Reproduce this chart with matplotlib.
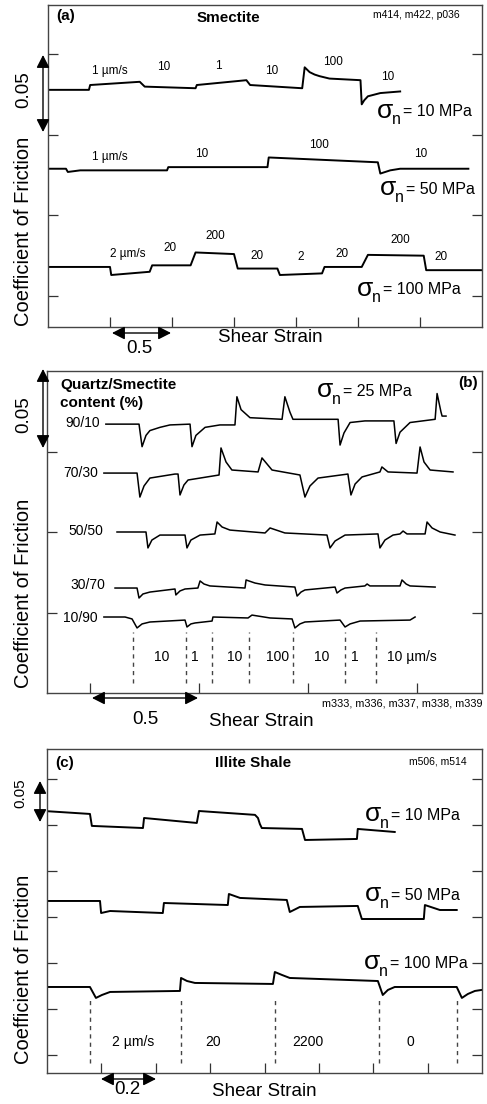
import matplotlib
matplotlib.use('Agg')
import matplotlib.pyplot as plt
from matplotlib.patches import FancyArrowPatch

plt.rcParams['font.family'] = ['Liberation Sans', 'DejaVu Sans']

W, H = 487, 1104

# ---------------- Panel (a): Smectite ----------------
a_sig10_x = [0, 0.33, 0.34, 0.74, 0.78, 1.19, 1.20, 1.60, 1.63, 2.05, 2.07, 2.09, 2.11, 2.15, 2.19, 2.27, 2.52, 2.53, 2.55, 2.58, 2.68, 2.84]
a_sig10_y = [0.228, 0.228, 0.231, 0.233, 0.230, 0.229, 0.231, 0.234, 0.231, 0.229, 0.242, 0.2405, 0.239, 0.2375, 0.2365, 0.235, 0.234, 0.219, 0.2215, 0.224, 0.226, 0.227]
a_sig50_x = [0, 0.145, 0.16, 0.26, 0.96, 0.97, 1.77, 1.78, 2.66, 2.68, 2.76, 2.84, 3.39]
a_sig50_y = [0.179, 0.179, 0.177, 0.178, 0.178, 0.180, 0.180, 0.186, 0.183, 0.176, 0.178, 0.179, 0.179]
a_sig100_x = [0, 0.50, 0.51, 0.82, 0.84, 1.15, 1.19, 1.50, 1.53, 1.85, 1.87, 2.21, 2.23, 2.53, 2.58, 3.03, 3.05, 3.5]
a_sig100_y = [0.118, 0.118, 0.113, 0.115, 0.119, 0.119, 0.127, 0.126, 0.117, 0.117, 0.113, 0.114, 0.118, 0.118, 0.1255, 0.125, 0.116, 0.116]

a_lab10_txt = ['1 µm/s', '10', '1', '10', '100', '10']
a_lab10_x = [0.50, 0.935, 1.371, 1.806, 2.298, 2.742]
a_lab10_y = [0.240, 0.242, 0.243, 0.240, 0.245, 0.236]
a_lab50_txt = ['1 µm/s', '10', '100', '10']
a_lab50_x = [0.50, 1.242, 2.185, 3.008]
a_lab50_y = [0.186, 0.188, 0.194, 0.188]
a_lab100_txt = ['2 µm/s', '20', '200', '20', '2', '20', '200', '20']
a_lab100_x = [0.645, 0.984, 1.347, 1.685, 2.040, 2.371, 2.839, 3.169]
a_lab100_y = [0.126, 0.130, 0.137, 0.125, 0.124, 0.126, 0.135, 0.124]

# ---------------- Panel (b): Quartz/Smectite mixtures ----------------
b_q90_x = [0.573, 0.725, 0.739, 0.757, 0.775, 0.821, 0.867, 0.959, 0.968, 0.986, 1.028, 1.096, 1.165, 1.174, 1.193, 1.234, 1.381, 1.394, 1.417, 1.431, 1.638, 1.647, 1.665, 1.693, 1.761, 1.894, 1.904, 1.922, 1.968, 2.083, 2.092, 2.110, 2.115, 2.133]
b_q90_y = [0.167, 0.167, 0.153, 0.160, 0.163, 0.165, 0.1665, 0.167, 0.153, 0.160, 0.165, 0.1665, 0.1665, 0.184, 0.176, 0.171, 0.170, 0.184, 0.1745, 0.170, 0.170, 0.154, 0.1615, 0.168, 0.169, 0.169, 0.155, 0.162, 0.168, 0.170, 0.186, 0.1745, 0.172, 0.172]
b_q70_x = [0.564, 0.716, 0.729, 0.748, 0.775, 0.890, 0.904, 0.913, 0.931, 0.950, 1.092, 1.101, 1.124, 1.151, 1.271, 1.289, 1.335, 1.463, 1.486, 1.509, 1.546, 1.683, 1.697, 1.716, 1.748, 1.830, 1.839, 1.867, 2.000, 2.014, 2.032, 2.060, 2.165]
b_q70_y = [0.1366, 0.1366, 0.1217, 0.1286, 0.1335, 0.1360, 0.1360, 0.1230, 0.1292, 0.1323, 0.1354, 0.1522, 0.1435, 0.1385, 0.1373, 0.1460, 0.1385, 0.1354, 0.1217, 0.1286, 0.1335, 0.1360, 0.1230, 0.1298, 0.1342, 0.1373, 0.1404, 0.1373, 0.1366, 0.1528, 0.1435, 0.1385, 0.1373]
b_q50_x = [0.624, 0.757, 0.766, 0.784, 0.821, 0.936, 0.945, 0.963, 1.005, 1.073, 1.083, 1.106, 1.142, 1.303, 1.326, 1.394, 1.587, 1.601, 1.624, 1.670, 1.821, 1.830, 1.853, 1.890, 1.922, 1.936, 1.954, 2.037, 2.046, 2.069, 2.106, 2.174]
b_q50_y = [0.1000, 0.1000, 0.0901, 0.0950, 0.0981, 0.0981, 0.0901, 0.0950, 0.0981, 0.0988, 0.1062, 0.1031, 0.1012, 0.0994, 0.1025, 0.0994, 0.0981, 0.0901, 0.0944, 0.0981, 0.0988, 0.0901, 0.0950, 0.0981, 0.0988, 0.1006, 0.0988, 0.0988, 0.1062, 0.1025, 0.1000, 0.0981]
b_q30_x = [0.615, 0.716, 0.725, 0.743, 0.775, 0.890, 0.894, 0.913, 0.936, 0.995, 1.005, 1.023, 1.050, 1.211, 1.216, 1.257, 1.303, 1.440, 1.450, 1.468, 1.486, 1.624, 1.633, 1.651, 1.670, 1.761, 1.771, 1.784, 1.922, 1.931, 1.950, 1.968, 2.083]
b_q30_y = [0.0652, 0.0652, 0.0590, 0.0615, 0.0627, 0.0646, 0.0609, 0.0634, 0.0646, 0.0652, 0.0696, 0.0677, 0.0665, 0.0652, 0.0702, 0.0683, 0.0671, 0.0658, 0.0602, 0.0627, 0.0640, 0.0658, 0.0621, 0.0640, 0.0652, 0.0665, 0.0677, 0.0665, 0.0665, 0.0702, 0.0677, 0.0665, 0.0658]
b_q10_x = [0.564, 0.661, 0.693, 0.716, 0.739, 0.775, 0.936, 0.945, 0.963, 0.982, 1.060, 1.064, 1.225, 1.243, 1.326, 1.427, 1.440, 1.463, 1.486, 1.647, 1.670, 1.693, 1.739, 1.968, 1.991]
b_q10_y = [0.0472, 0.0472, 0.0460, 0.0404, 0.0429, 0.0441, 0.0453, 0.0410, 0.0429, 0.0435, 0.0447, 0.0472, 0.0466, 0.0484, 0.0466, 0.0460, 0.0404, 0.0429, 0.0441, 0.0453, 0.0410, 0.0429, 0.0447, 0.0453, 0.0472]

b_mix_txt = ['90/10', '70/30', '50/50', '30/70', '10/90']
b_mix_x = [0.546, 0.537, 0.560, 0.569, 0.537]
b_mix_y = [0.1677, 0.1366, 0.1006, 0.0671, 0.0466]

b_step_x = [0.697, 0.940, 1.060, 1.229, 1.431, 1.670, 1.812]
b_vel_txt = ['10', '1', '10', '100', '10', '1', '10 µm/s']
b_vel_x = [0.830, 0.982, 1.165, 1.362, 1.564, 1.716, 1.977]

# ---------------- Panel (c): Illite Shale ----------------
c_sig10_x = [0, 0.158, 0.165, 0.353, 0.357, 0.551, 0.559, 0.765, 0.776, 0.783, 0.790, 0.938, 0.949, 1.140, 1.143, 1.279]
c_sig10_y = [0.315, 0.312, 0.299, 0.2967, 0.3076, 0.3022, 0.3152, 0.311, 0.3076, 0.301, 0.2967, 0.2957, 0.2837, 0.2848, 0.2957, 0.2924]
c_sig50_x = [0, 0.195, 0.199, 0.232, 0.426, 0.430, 0.665, 0.669, 0.710, 0.882, 0.893, 0.930, 1.143, 1.158, 1.386, 1.390, 1.445, 1.507]
c_sig50_y = [0.2174, 0.2174, 0.2043, 0.2065, 0.2043, 0.2152, 0.2130, 0.2250, 0.2207, 0.2185, 0.2054, 0.2109, 0.2120, 0.1978, 0.1978, 0.2130, 0.2076, 0.2076]
c_sig100_x = [0, 0.158, 0.180, 0.202, 0.232, 0.489, 0.493, 0.515, 0.544, 0.831, 0.838, 0.864, 0.893, 1.217, 1.235, 1.254, 1.279, 1.507, 1.526, 1.548, 1.574, 1.599]
c_sig100_y = [0.1239, 0.1239, 0.1120, 0.1152, 0.1185, 0.1196, 0.1337, 0.1304, 0.1283, 0.1272, 0.1402, 0.1370, 0.1337, 0.1304, 0.1152, 0.1207, 0.1239, 0.1239, 0.1120, 0.1163, 0.1196, 0.1207]

c_step_x = [0.158, 0.493, 0.838, 1.221, 1.507]
c_vel_txt = ['2 µm/s', '20', '2200', '0']
c_vel_x = [0.316, 0.610, 0.960, 1.335]

# ---------------- helpers ----------------
fig = plt.figure(figsize=(W / 100, H / 100), dpi=100)


def fxy(px, py):
    return (px / W, 1 - py / H)


def ftext(px, py, s, **kw):
    kw.setdefault('ha', 'center')
    kw.setdefault('va', 'center')
    fig.text(px / W, 1 - py / H, s, **kw)


def farrow(p1, p2):
    arr = FancyArrowPatch(fxy(*p1), fxy(*p2), transform=fig.transFigure,
                          arrowstyle='<|-|>,head_length=0.55,head_width=0.28',
                          mutation_scale=14, lw=1.0, color='black',
                          shrinkA=0, shrinkB=0)
    fig.add_artist(arr)


def sigma(px, py, val):
    ftext(px, py - 1, 'σ', fontsize=19, ha='left')
    ftext(px + 15, py + 8, 'n', fontsize=11.5, ha='left')
    ftext(px + 26, py, '= %s MPa' % val, fontsize=11.5, ha='left')


def new_axes(left, top, right, bottom):
    ax = fig.add_axes([left / W, 1 - bottom / H, (right - left) / W, (bottom - top) / H])
    ax.tick_params(direction='in', length=7, width=0.9, labelbottom=False,
                   labelleft=False, left=True, right=True, top=False, bottom=True,
                   color='#333333')
    for s in ax.spines.values():
        s.set_linewidth(1.0)
        s.set_color('#444444')
    return ax


# ---------------- Panel (a) ----------------
axa = new_axes(48, 5, 482, 327)
axa.set_xlim(0, 3.5)
axa.set_ylim(0.0807, 0.2807)
axa.set_xticks([0.5, 1.0, 1.5, 2.0, 2.5, 3.0])
axa.set_yticks([0.10, 0.15, 0.20, 0.25])
for xs, ys in [(a_sig10_x, a_sig10_y), (a_sig50_x, a_sig50_y), (a_sig100_x, a_sig100_y)]:
    axa.plot(xs, ys, color='black', lw=1.4)
for txt, xs, ys in [(a_lab10_txt, a_lab10_x, a_lab10_y), (a_lab50_txt, a_lab50_x, a_lab50_y),
                    (a_lab100_txt, a_lab100_x, a_lab100_y)]:
    for t, x, y in zip(txt, xs, ys):
        axa.text(x, y, t, fontsize=8.5, ha='center', va='center')

ftext(66, 16, '(a)', fontsize=11, fontweight='bold')
ftext(228, 18, 'Smectite', fontsize=11, fontweight='bold')
ftext(416, 15, 'm414, m422, p036', fontsize=7.5)
sigma(377, 112, '10')
sigma(380, 189, '50')
sigma(357, 290, '100')
ftext(24, 90, '0.05', fontsize=13.5, rotation=90)
farrow((43, 55), (43, 132))
ftext(24, 231, 'Coefficient of Friction', fontsize=14.5, rotation=90)
ftext(270, 337, 'Shear Strain', fontsize=13.5)
ftext(139, 348, '0.5', fontsize=13.5)
farrow((112, 333), (171, 333))

# ---------------- Panel (b) ----------------
axb = new_axes(47, 371, 482, 693)
axb.set_xlim(0.303, 2.298)
axb.set_ylim(0, 0.2)
axb.set_xticks([0.5, 1.0, 1.5, 2.0])
axb.set_yticks([0.05, 0.10, 0.15])
for xs, ys in [(b_q90_x, b_q90_y), (b_q70_x, b_q70_y), (b_q50_x, b_q50_y),
               (b_q30_x, b_q30_y), (b_q10_x, b_q10_y)]:
    axb.plot(xs, ys, color='black', lw=1.1)
for t, x, y in zip(b_mix_txt, b_mix_x, b_mix_y):
    axb.text(x, y, t, fontsize=10, ha='right', va='center')
axb.vlines(b_step_x, 0.0062, 0.0379, colors='#444444', lw=1.0, linestyles=(0, (3, 3)))
for t, x in zip(b_vel_txt, b_vel_x):
    axb.text(x, 0.0224, t, fontsize=10, ha='center', va='center')

ftext(60, 385, 'Quartz/Smectite', fontsize=11, fontweight='bold', ha='left')
ftext(60, 403, 'content (%)', fontsize=11, fontweight='bold', ha='left')
sigma(317, 391, '25')
ftext(468, 383, '(b)', fontsize=11, fontweight='bold')
ftext(24, 415, '0.05', fontsize=13.5, rotation=90)
farrow((43, 369), (43, 448))
ftext(24, 593, 'Coefficient of Friction', fontsize=14.5, rotation=90)
ftext(402, 703, 'm333, m336, m337, m338, m339', fontsize=7.8)
ftext(261, 722, 'Shear Strain', fontsize=13.5)
ftext(145, 720, '0.5', fontsize=13.5)
farrow((92, 698), (198, 698))

# ---------------- Panel (c) ----------------
axc = new_axes(47, 749, 482, 1073)
axc.set_xlim(0, 1.6)
axc.set_ylim(0.0304, 0.3826)
axc.set_xticks([0.2, 0.4, 0.6, 0.8, 1.0, 1.2, 1.4])
axc.set_yticks([0.05, 0.10, 0.15, 0.20, 0.25, 0.30, 0.35])
for xs, ys in [(c_sig10_x, c_sig10_y), (c_sig50_x, c_sig50_y), (c_sig100_x, c_sig100_y)]:
    axc.plot(xs, ys, color='black', lw=1.4)
axc.vlines(c_step_x, 0.0413, 0.1098, colors='#444444', lw=1.0, linestyles=(0, (3, 3)))
for t, x in zip(c_vel_txt, c_vel_x):
    axc.text(x, 0.0641, t, fontsize=10, ha='center', va='center')

ftext(65, 763, '(c)', fontsize=11, fontweight='bold')
ftext(253, 763, 'Illite Shale', fontsize=11, fontweight='bold')
ftext(438, 762, 'm506, m514', fontsize=7.5)
sigma(365, 815, '10')
sigma(365, 895, '50')
sigma(364, 963, '100')
ftext(20, 793, '0.05', fontsize=11, rotation=90)
farrow((40, 781), (40, 822))
ftext(24, 969, 'Coefficient of Friction', fontsize=14.5, rotation=90)
ftext(264, 1091, 'Shear Strain', fontsize=13.5)
ftext(127, 1090, '0.2', fontsize=13.5)
farrow((101, 1079), (156, 1079))

fig.savefig('out.png', dpi=100)
